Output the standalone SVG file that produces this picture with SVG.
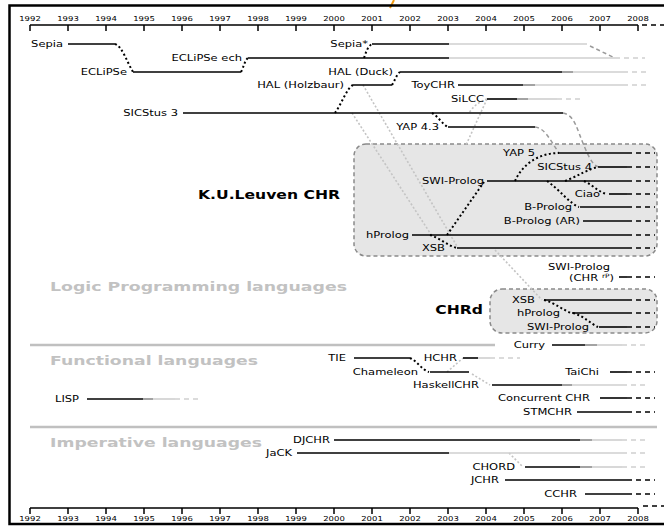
<svg xmlns="http://www.w3.org/2000/svg" width="664" height="526" viewBox="0 0 664 526">
<style>
.t{font-family:"DejaVu Sans",sans-serif;font-size:9.2px;fill:#000;text-anchor:end}
.b{font-family:"DejaVu Sans",sans-serif;font-size:12.5px;font-weight:bold;fill:#000;text-anchor:end}
.s{font-family:"DejaVu Sans",sans-serif;font-size:12.5px;font-weight:bold;fill:#c2c2c2}
.ax{font-family:"DejaVu Sans",sans-serif;font-size:6.8px;fill:#000;text-anchor:middle}
.k{stroke:#000;stroke-width:1.6;fill:none}
.m{stroke:#8c8c8c;stroke-width:1.6;fill:none}
.l{stroke:#cfcfcf;stroke-width:1.6;fill:none}
.ld{stroke:#cfcfcf;stroke-width:1.6;stroke-dasharray:5 4;fill:none}
.kd{stroke:#000;stroke-width:1.6;stroke-dasharray:5 4;fill:none}
.dot{stroke:#000;stroke-width:2;stroke-dasharray:2 2.5;fill:none}
.gdot{stroke:#c4c4c4;stroke-width:1.6;stroke-dasharray:2 2;fill:none}
.gdash{stroke:#9a9a9a;stroke-width:1.5;stroke-dasharray:4 3;fill:none}
.box{fill:#e6e6e6;stroke:#8a8a8a;stroke-width:1.5;stroke-dasharray:4 3}
.div{stroke:#c0c0c0;stroke-width:2.5}
.axl{stroke:#000;stroke-width:1.5;fill:none}
</style>
<rect x="0" y="0" width="664" height="526" fill="#fff"/>
<line x1="394" y1="0" x2="390" y2="8" stroke="#f39c12" stroke-width="2"/>
<rect x="9.5" y="5.5" width="680" height="518.5" fill="none" stroke="#000" stroke-width="2.5"/>

<g id="axis-top">
<path class="axl" d="M30,25H638M30,25V31M68,25V31M106,25V31M144,25V31M182,25V31M220,25V31M258,25V31M296,25V31M334,25V31M372,25V31M410,25V31M448,25V31M486,25V31M524,25V31M562,25V31M600,25V31M638,25V31"/>
<path class="kd" d="M642,25H664"/>
<g class="ax">
<text transform="translate(30 20.5) scale(1.25 1)">1992</text>
<text transform="translate(68 20.5) scale(1.25 1)">1993</text>
<text transform="translate(106 20.5) scale(1.25 1)">1994</text>
<text transform="translate(144 20.5) scale(1.25 1)">1995</text>
<text transform="translate(182 20.5) scale(1.25 1)">1996</text>
<text transform="translate(220 20.5) scale(1.25 1)">1997</text>
<text transform="translate(258 20.5) scale(1.25 1)">1998</text>
<text transform="translate(296 20.5) scale(1.25 1)">1999</text>
<text transform="translate(334 20.5) scale(1.25 1)">2000</text>
<text transform="translate(372 20.5) scale(1.25 1)">2001</text>
<text transform="translate(410 20.5) scale(1.25 1)">2002</text>
<text transform="translate(448 20.5) scale(1.25 1)">2003</text>
<text transform="translate(486 20.5) scale(1.25 1)">2004</text>
<text transform="translate(524 20.5) scale(1.25 1)">2005</text>
<text transform="translate(562 20.5) scale(1.25 1)">2006</text>
<text transform="translate(600 20.5) scale(1.25 1)">2007</text>
<text transform="translate(638 20.5) scale(1.25 1)">2008</text>
</g>
</g>

<g id="axis-bottom">
<path class="axl" d="M30,508H638M30,508V514M68,508V514M106,508V514M144,508V514M182,508V514M220,508V514M258,508V514M296,508V514M334,508V514M372,508V514M410,508V514M448,508V514M486,508V514M524,508V514M562,508V514M600,508V514M638,508V514"/>
<path class="kd" d="M643,506H664"/>
<g class="ax">
<text transform="translate(30 521) scale(1.25 1)">1992</text>
<text transform="translate(68 521) scale(1.25 1)">1993</text>
<text transform="translate(106 521) scale(1.25 1)">1994</text>
<text transform="translate(144 521) scale(1.25 1)">1995</text>
<text transform="translate(182 521) scale(1.25 1)">1996</text>
<text transform="translate(220 521) scale(1.25 1)">1997</text>
<text transform="translate(258 521) scale(1.25 1)">1998</text>
<text transform="translate(296 521) scale(1.25 1)">1999</text>
<text transform="translate(334 521) scale(1.25 1)">2000</text>
<text transform="translate(372 521) scale(1.25 1)">2001</text>
<text transform="translate(410 521) scale(1.25 1)">2002</text>
<text transform="translate(448 521) scale(1.25 1)">2003</text>
<text transform="translate(486 521) scale(1.25 1)">2004</text>
<text transform="translate(524 521) scale(1.25 1)">2005</text>
<text transform="translate(562 521) scale(1.25 1)">2006</text>
<text transform="translate(600 521) scale(1.25 1)">2007</text>
<text transform="translate(638 521) scale(1.25 1)">2008</text>
</g>
</g>

<g id="sections">
<line class="div" x1="30" y1="345" x2="495" y2="345"/>
<line class="div" x1="30" y1="427" x2="657" y2="427"/>
<text class="s" x="50" y="290.7" textLength="297" lengthAdjust="spacingAndGlyphs">Logic Programming languages</text>
<text class="s" x="50" y="365" textLength="208" lengthAdjust="spacingAndGlyphs">Functional languages</text>
<text class="s" x="50" y="446.7" textLength="212" lengthAdjust="spacingAndGlyphs">Imperative languages</text>
</g>

<g id="ku-leuven-chr">
<rect class="box" x="354" y="144" width="303" height="112" rx="12"/>
<text class="b" transform="translate(340 199) scale(1.25 1)">K.U.Leuven CHR</text>
</g>
<g id="chrd">
<rect class="box" x="490" y="289" width="167" height="44" rx="12"/>
<text class="b" transform="translate(483 313.5) scale(1.25 1)">CHRd</text>
</g>

<g id="connectors">
<path class="dot" d="M115,44C122,46 127,62 133,72"/>
<path class="dot" d="M241,72C244,66 245,60 248,58"/>
<path class="dot" d="M364,58C366,52 368,46 372,44"/>
<path class="gdash" d="M590,46L615,58"/>
<path class="dot" d="M335,113C342,103 347,88 353,85"/>
<path class="dot" d="M392,85C395,80 397,74 400,72"/>
<path class="gdot" d="M352,113L432,236"/>
<path class="gdot" d="M363,85L458,248"/>
<path class="gdot" d="M487,99C478,102 472,108 469,113"/>
<path class="gdot" d="M487,99L466,145"/>
<path class="dot" d="M432,113C438,116 442,124 448,127"/>
<path class="gdash" d="M563,113C575,115 577,130 585,148C590,160 594,166 599,167"/>
<path class="gdash" d="M535,127C545,128 550,140 559,153"/>
<path class="dot" d="M447,235L484,182"/>
<path class="dot" d="M515,181C522,165 538,153 559,153"/>
<path class="dot" d="M565,181C578,176 590,168 599,167"/>
<path class="dot" d="M584,181C594,186 600,193 607,194"/>
<path class="dot" d="M547,181C560,190 570,204 579,207"/>
<path class="dot" d="M430,235C440,238 448,246 457,248"/>
<path class="gdot" d="M495,250L542,300"/>
<path class="dot" d="M544,300C555,303 563,310 571,313"/>
<path class="dot" d="M573,313C584,316 591,324 598,327"/>
<path class="dot" d="M410,358C417,361 422,370 429,372"/>
<path class="gdot" d="M447,372L463,358"/>
<path class="gdot" d="M472,374L490,385"/>
<path class="gdot" d="M509,453L523,467"/>
</g>

<g id="sepia"><text class="t" transform="translate(63 47.3) scale(1.25 1)">Sepia</text><path class="k" d="M68,44H115"/></g>
<g id="eclipse"><text class="t" transform="translate(127 75.3) scale(1.25 1)">ECLiPSe</text><path class="k" d="M133,72H241"/></g>
<g id="eclipse-ech"><text class="t" transform="translate(242 61.3) scale(1.25 1)">ECLiPSe ech</text><path class="k" d="M248,58H449"/><path class="l" d="M449,58H615"/><path class="ld" d="M615,58H645"/></g>
<g id="sepia-star"><text class="t" transform="translate(368 47.3) scale(1.25 1)">Sepia*</text><path class="k" d="M372,44H449"/><path class="l" d="M449,44H587"/></g>
<g id="hal-holzbaur"><text class="t" transform="translate(344 88.3) scale(1.25 1)">HAL (Holzbaur)</text><path class="k" d="M353,85H392"/></g>
<g id="hal-duck"><text class="t" transform="translate(393 75.3) scale(1.25 1)">HAL (Duck)</text><path class="k" d="M400,72H562"/><path class="m" d="M562,72H573"/><path class="l" d="M573,72H623"/><path class="ld" d="M623,72H647"/></g>
<g id="toychr"><text class="t" transform="translate(455 88.3) scale(1.25 1)">ToyCHR</text><path class="k" d="M458,85H523"/><path class="m" d="M523,85H535"/><path class="l" d="M535,85H623"/><path class="ld" d="M623,85H647"/></g>
<g id="silcc"><text class="t" transform="translate(484 102.3) scale(1.25 1)">SiLCC</text><path class="k" d="M487,99H517"/><path class="m" d="M517,99H528"/><path class="l" d="M528,99H557"/><path class="ld" d="M557,99H580"/></g>
<g id="sicstus3"><text class="t" transform="translate(178 116.3) scale(1.25 1)">SICStus 3</text><path class="k" d="M183,113H563"/></g>
<g id="yap43"><text class="t" transform="translate(439 130.3) scale(1.25 1)">YAP 4.3</text><path class="k" d="M448,127H535"/></g>

<g id="yap5"><text class="t" transform="translate(535 156.3) scale(1.25 1)">YAP 5</text><path class="k" d="M559,153H627"/><path class="kd" d="M627,153H655"/></g>
<g id="sicstus4"><text class="t" transform="translate(592 170.3) scale(1.25 1)">SICStus 4</text><path class="k" d="M599,167H627"/><path class="kd" d="M627,167H655"/></g>
<g id="swi-prolog"><text class="t" transform="translate(484 184.3) scale(1.25 1)">SWI-Prolog</text><path class="k" d="M487,181H627"/><path class="kd" d="M627,181H655"/></g>
<g id="ciao"><text class="t" transform="translate(600 197.3) scale(1.25 1)">Ciao</text><path class="k" d="M609,194H627"/><path class="kd" d="M627,194H655"/></g>
<g id="b-prolog"><text class="t" transform="translate(572 210.3) scale(1.25 1)">B-Prolog</text><path class="k" d="M580,207H627"/><path class="kd" d="M627,207H655"/></g>
<g id="b-prolog-ar"><text class="t" transform="translate(580 224.3) scale(1.25 1)">B-Prolog (AR)</text><path class="k" d="M583,221H627"/><path class="kd" d="M627,221H655"/></g>
<g id="hprolog"><text class="t" transform="translate(409 238.3) scale(1.25 1)">hProlog</text><path class="k" d="M412,235H627"/><path class="kd" d="M627,235H655"/></g>
<g id="xsb"><text class="t" transform="translate(445 251.3) scale(1.25 1)">XSB</text><path class="k" d="M457,248H627"/><path class="kd" d="M627,248H655"/></g>

<g id="swi-prolog-chrrp"><text class="t" transform="translate(610 270) scale(1.25 1)">SWI-Prolog</text><text class="t" transform="translate(614 281) scale(1.25 1)">(CHR <tspan font-size="6" dy="-3.5">rP</tspan><tspan dy="3.5">)</tspan></text><path class="k" d="M619,277H627"/><path class="kd" d="M627,277H655"/></g>
<g id="chrd-xsb"><text class="t" transform="translate(535 303.3) scale(1.25 1)">XSB</text><path class="k" d="M544,300H627"/><path class="kd" d="M627,300H655"/></g>
<g id="chrd-hprolog"><text class="t" transform="translate(560 316.3) scale(1.25 1)">hProlog</text><path class="k" d="M572,313H627"/><path class="kd" d="M627,313H655"/></g>
<g id="chrd-swi"><text class="t" transform="translate(589 330.3) scale(1.25 1)">SWI-Prolog</text><path class="k" d="M599,327H627"/><path class="kd" d="M627,327H655"/></g>

<g id="curry"><text class="t" transform="translate(545 348.3) scale(1.25 1)">Curry</text><path class="k" d="M552,345H585"/><path class="m" d="M585,345H597"/><path class="l" d="M597,345H622"/><path class="ld" d="M622,345H645"/></g>
<g id="tie"><text class="t" transform="translate(346 361.3) scale(1.25 1)">TIE</text><path class="k" d="M354,358H410"/></g>
<g id="chameleon"><text class="t" transform="translate(418 375.3) scale(1.25 1)">Chameleon</text><path class="k" d="M430,372H469"/></g>
<g id="hchr"><text class="t" transform="translate(457 361.3) scale(1.25 1)">HCHR</text><path class="k" d="M463,358H478"/><path class="l" d="M478,358H490"/><path class="ld" d="M490,358H520"/></g>
<g id="haskellchr"><text class="t" transform="translate(479 388.3) scale(1.25 1)">HaskellCHR</text><path class="k" d="M492,385H562"/><path class="m" d="M562,385H572"/><path class="l" d="M572,385H622"/><path class="ld" d="M622,385H645"/></g>
<g id="taichi"><text class="t" transform="translate(599 375.3) scale(1.25 1)">TaiChi</text><path class="k" d="M610,372H627"/><path class="kd" d="M627,372H655"/></g>
<g id="concurrent-chr"><text class="t" transform="translate(590 401.3) scale(1.25 1)">Concurrent CHR</text><path class="k" d="M600,398H627"/><path class="kd" d="M627,398H655"/></g>
<g id="stmchr"><text class="t" transform="translate(572 415.3) scale(1.25 1)">STMCHR</text><path class="k" d="M577,412H627"/><path class="kd" d="M627,412H655"/></g>
<g id="lisp"><text class="t" transform="translate(79 402.3) scale(1.25 1)">LISP</text><path class="k" d="M87,399H143"/><path class="m" d="M143,399H153"/><path class="l" d="M153,399H175"/><path class="ld" d="M175,399H200"/></g>

<g id="djchr"><text class="t" transform="translate(330 443.3) scale(1.25 1)">DJCHR</text><path class="k" d="M334,440H580"/><path class="m" d="M580,440H592"/><path class="l" d="M592,440H622"/><path class="ld" d="M622,440H645"/></g>
<g id="jack"><text class="t" transform="translate(292 456.3) scale(1.25 1)">JaCK</text><path class="k" d="M297,453H449"/><path class="l" d="M449,453H622"/><path class="ld" d="M622,453H645"/></g>
<g id="chord"><text class="t" transform="translate(515 470.3) scale(1.25 1)">CHORD</text><path class="k" d="M525,467H580"/><path class="m" d="M580,467H592"/><path class="l" d="M592,467H622"/><path class="ld" d="M622,467H645"/></g>
<g id="jchr"><text class="t" transform="translate(499 483.3) scale(1.25 1)">JCHR</text><path class="k" d="M505,480H627"/><path class="kd" d="M627,480H655"/></g>
<g id="cchr"><text class="t" transform="translate(577 497.3) scale(1.25 1)">CCHR</text><path class="k" d="M585,494H627"/><path class="kd" d="M627,494H655"/></g>
</svg>
